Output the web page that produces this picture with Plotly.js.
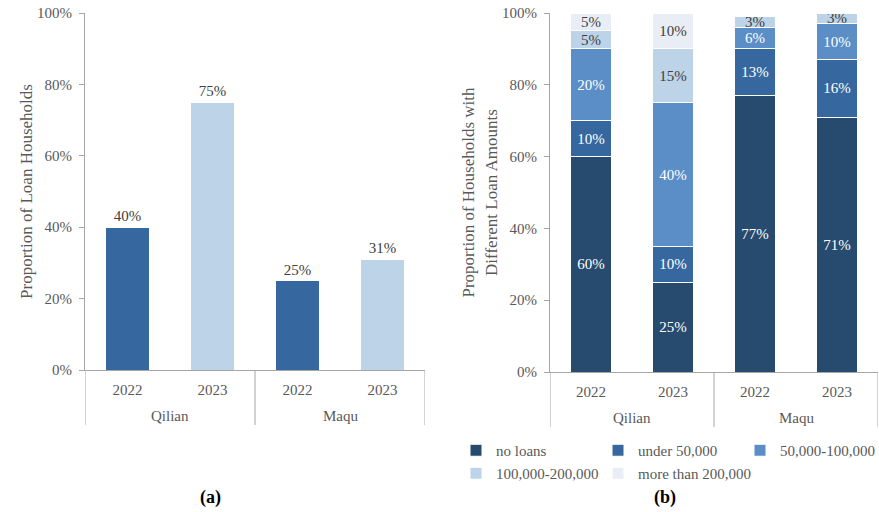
<!DOCTYPE html>
<html>
<head>
<meta charset="utf-8">
<script src="https://cdn.plot.ly/plotly-3.0.1.min.js"></script>
<style>
  html, body { margin: 0; padding: 0; background: #ffffff; }
  #chart { width: 879px; height: 512px; }
</style>
</head>
<body>
<div id="chart"></div>
<script>
// Sites and survey years; each bar is one site-year
const sites = ['Qilian', 'Qilian', 'Maqu', 'Maqu'];
const years = ['2022', '2023', '2022', '2023'];

// (a) share of households holding a loan
const loanShare = [0.40, 0.75, 0.25, 0.31];
const loanYearColors = ['#36689f', '#bdd3e8', '#36689f', '#bdd3e8'];

// (b) distribution of households by loan amount
const amountNames = ['no loans', 'under 50,000', '50,000-100,000', '100,000-200,000', 'more than 200,000'];
const noLoans   = [0.60, 0.25, 0.77, 0.71];
const under50k  = [0.10, 0.10, 0.13, 0.16];
const from50k   = [0.20, 0.40, 0.06, 0.10];
const from100k  = [0.05, 0.15, 0.03, 0.03];
const over200k  = [0.05, 0.10, 0.00, 0.00];
const amountSeries = [noLoans, under50k, from50k, from100k, over200k];
const amountColors = ['#274a6f', '#36689f', '#5b8ec6', '#bdd3e8', '#e9eef6'];
const amountTextColors = ['#ffffff', '#ffffff', '#ffffff', '#404040', '#404040'];
// legend rows: three entries on the first row, two on the second
const amountLegend = ['legend', 'legend', 'legend', 'legend2', 'legend3'];

const serif = 'Liberation Serif, Times New Roman, serif';
const grey = '#595959';
const axisGrey = '#a6a6a6';
const pct = v => Math.round(v * 100) + '%';

// One category per site-year; the tick shows the year, the site goes underneath
const barKeys = sites.map((s, i) => s + ' ' + years[i]);
const siteNames = sites.filter((s, i) => sites.indexOf(s) === i);
const siteCenter = s => (sites.indexOf(s) + sites.lastIndexOf(s)) / 2;
const siteEdges = [-0.5].concat(siteNames.map(s => sites.lastIndexOf(s) + 0.5));

const traces = [];

traces.push({
  type: 'bar',
  x: barKeys,
  y: loanShare,
  xaxis: 'x', yaxis: 'y',
  width: 0.51,
  marker: { color: loanYearColors, line: { color: '#ffffff', width: 1 } },
  text: loanShare.map(pct),
  texttemplate: '%{text}',
  textposition: 'outside',
  cliponaxis: false,
  textfont: { family: serif, size: 15, color: '#404040' },
  showlegend: false,
  hoverinfo: 'skip'
});

amountSeries.forEach((vals, i) => {
  traces.push({
    type: 'bar',
    name: amountNames[i],
    legend: amountLegend[i],
    x: barKeys,
    y: vals,
    xaxis: 'x2', yaxis: 'y2',
    width: 0.49,
    marker: { color: amountColors[i], line: { color: '#ffffff', width: 1 } },
    text: vals.map(v => v > 0 ? pct(v) : ''),
    texttemplate: '%{text}',
    textposition: 'inside',
    insidetextanchor: 'middle',
    constraintext: 'none',
    cliponaxis: false,
    insidetextfont: { family: serif, size: 15, color: amountTextColors[i] },
    hoverinfo: 'skip'
  });
});

const yBase = {
  range: [0, 1],
  dtick: 0.2,
  tickformat: '.0%',
  showgrid: false,
  zeroline: false,
  showline: true,
  linecolor: axisGrey,
  linewidth: 1,
  ticks: 'outside',
  ticklen: 5,
  tickcolor: axisGrey,
  ticklabelstandoff: 4,
  tickfont: { family: serif, size: 15, color: grey },
  automargin: false,
  fixedrange: true
};
const xBase = {
  type: 'category',
  range: [-0.5, barKeys.length - 0.5],
  tickmode: 'array',
  tickvals: barKeys,
  ticktext: years,
  showline: true,
  linecolor: axisGrey,
  linewidth: 1,
  showgrid: false,
  ticks: '',
  ticklabelstandoff: 6,
  tickfont: { family: serif, size: 15, color: grey },
  automargin: false,
  fixedrange: true
};

// Plot-area geometry in paper fractions
const H = 512, W = 879;
const py = px => 1 - px / H;
const panels = [
  { xa: 'x', bottom: 370, dividerEnd: 425, siteY: 416 },
  { xa: 'x2', bottom: 372, dividerEnd: 427, siteY: 418 }
];

const shapes = [];
const annotations = [];
panels.forEach(p => {
  siteEdges.forEach(e => {
    shapes.push({
      type: 'line', xref: p.xa, yref: 'paper',
      x0: e, x1: e, y0: py(p.bottom), y1: py(p.dividerEnd),
      line: { color: axisGrey, width: 1 }
    });
  });
  siteNames.forEach(s => {
    annotations.push({
      text: s, xref: p.xa, yref: 'paper', x: siteCenter(s), y: py(p.siteY),
      xanchor: 'center', yanchor: 'middle', showarrow: false,
      font: { family: serif, size: 15, color: grey }
    });
  });
});

annotations.push(
  { text: '<b>(a)</b>', xref: 'paper', yref: 'paper', x: 210 / W, y: py(497), xanchor: 'center', yanchor: 'middle',
    showarrow: false, font: { family: serif, size: 18, color: '#000000' } },
  { text: '<b>(b)</b>', xref: 'paper', yref: 'paper', x: 665 / W, y: py(497), xanchor: 'center', yanchor: 'middle',
    showarrow: false, font: { family: serif, size: 18, color: '#000000' } }
);

const legendBase = {
  orientation: 'h',
  xanchor: 'left',
  yanchor: 'top',
  traceorder: 'normal',
  bgcolor: 'rgba(0,0,0,0)',
  font: { family: serif, size: 15, color: grey },
  itemclick: false, itemdoubleclick: false
};

const layout = {
  width: W,
  height: H,
  margin: { l: 0, r: 0, t: 0, b: 0, autoexpand: false },
  paper_bgcolor: '#ffffff',
  plot_bgcolor: '#ffffff',
  barmode: 'stack',
  font: { family: serif, color: grey },
  xaxis: Object.assign({}, xBase, { domain: [85 / W, 425 / W], anchor: 'y' }),
  yaxis: Object.assign({}, yBase, {
    domain: [py(370), py(13)], anchor: 'x',
    title: { text: 'Proportion of Loan Households', font: { family: serif, size: 17, color: grey }, standoff: 0 }
  }),
  xaxis2: Object.assign({}, xBase, { domain: [550 / W, 878 / W], anchor: 'y2' }),
  yaxis2: Object.assign({}, yBase, {
    domain: [py(372), py(13)], anchor: 'x2',
    title: { text: 'Proportion of Households with<br>Different Loan Amounts', font: { family: serif, size: 17, color: grey }, standoff: 0 }
  }),
  showlegend: true,
  legend: Object.assign({}, legendBase, { x: 456 / W, y: py(434), entrywidth: 97, entrywidthmode: 'pixels' }),
  legend2: Object.assign({}, legendBase, { x: 456 / W, y: py(457) }),
  legend3: Object.assign({}, legendBase, { x: 598 / W, y: py(457) }),
  shapes: shapes,
  annotations: annotations
};

Plotly.newPlot('chart', traces, layout, { staticPlot: true, displayModeBar: false });
</script>
</body>
</html>
